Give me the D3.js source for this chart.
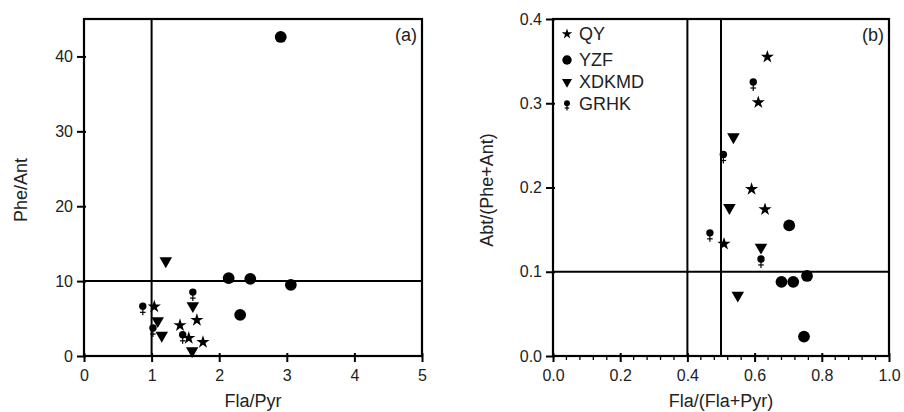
<!DOCTYPE html>
<html>
<head>
<meta charset="utf-8">
<script src="https://cdn.jsdelivr.net/npm/d3@7"></script>
<style>
  body { margin: 0; background: #fff; }
  svg { display: block; font-family: "Liberation Sans", Arial, sans-serif; }
  .tick text { font-size: 16px; fill: #222; }
</style>
</head>
<body>
<svg id="chart" width="904" height="412"></svg>
<script>
// panel (a): Fla/Pyr vs Phe/Ant
var qyA = [[1.04, 6.6], [1.42, 4.1], [1.67, 4.8], [1.55, 2.4], [1.76, 1.85]];
var yzfA = [[2.91, 42.6], [2.14, 10.4], [2.46, 10.3], [3.06, 9.5], [2.31, 5.5]];
var xdkmdA = [[1.21, 12.7], [1.61, 6.7], [1.09, 4.7], [1.15, 2.75], [1.6, 0.7]];
var grhkA = [[0.87, 6.5], [1.02, 3.6], [1.61, 8.4], [1.46, 2.7]];

// panel (b): Fla/(Fla+Pyr) vs Abt/(Phe+Ant)
var qyB = [[0.638, 0.355], [0.611, 0.301], [0.591, 0.198], [0.631, 0.174], [0.509, 0.133]];
var yzfB = [[0.703, 0.155], [0.680, 0.088], [0.715, 0.088], [0.756, 0.095], [0.747, 0.023]];
var xdkmdB = [[0.537, 0.260], [0.525, 0.176], [0.619, 0.129], [0.550, 0.072]];
var grhkB = [[0.596, 0.324], [0.507, 0.238], [0.467, 0.145], [0.619, 0.114]];

var ticksAx = [0, 1, 2, 3, 4, 5];
var ticksAy = [0, 10, 20, 30, 40];
var ticksBx = [0, 0.2, 0.4, 0.6, 0.8, 1.0];
var ticksBy = [0, 0.1, 0.2, 0.3, 0.4];

var legendNames = ['QY', 'YZF', 'XDKMD', 'GRHK'];

var svg = d3.select('#chart');

// marker drawing, k shrinks it for the legend
function drawMarker(g, type, k) {
	if (type == 'QY') {
		g.append('path').attr('d', d3.symbol().type(d3.symbolStar).size(54 * k * k)()).attr('fill', '#000');
	} else if (type == 'YZF') {
		g.append('circle').attr('r', 5.9 * k).attr('fill', '#000');
	} else if (type == 'XDKMD') {
		g.append('path').attr('d', d3.symbol().type(d3.symbolTriangle).size(68 * k * k)())
			.attr('transform', 'rotate(180)').attr('fill', '#000');
	} else {
		g.append('circle').attr('cy', -1 * k).attr('r', 3.7 * k).attr('fill', '#000');
		g.append('line').attr('x1', 0).attr('x2', 0).attr('y1', 2 * k).attr('y2', 8 * k)
			.attr('stroke', '#000').attr('stroke-width', 1.2);
		g.append('line').attr('x1', -2.8 * k).attr('x2', 2.8 * k).attr('y1', 5 * k).attr('y2', 5 * k)
			.attr('stroke', '#000').attr('stroke-width', 1.2);
	}
}

function drawPanel(cfg) {
	var x = d3.scaleLinear().domain(cfg.xDomain).range([cfg.left, cfg.right]);
	var y = d3.scaleLinear().domain(cfg.yDomain).range([cfg.bottom, cfg.top]);
	var g = svg.append('g');

	// x axis
	var xAxis = g.append('g').attr('transform', 'translate(0,' + cfg.bottom + ')')
		.call(d3.axisBottom(x).tickValues(cfg.xTicks).tickFormat(cfg.xFormat).tickSize(6).tickPadding(8));
	xAxis.select('.domain').remove();
	xAxis.selectAll('.tick line').attr('y1', -3).attr('stroke-width', 2);

	if (cfg.xMinor) {
		g.append('g').selectAll('line').data(cfg.xMinor).join('line')
			.attr('x1', function (d) { return x(d); }).attr('x2', function (d) { return x(d); })
			.attr('y1', cfg.bottom).attr('y2', cfg.bottom + 4)
			.attr('stroke', '#000').attr('stroke-width', 1.3);
	}

	// y axis
	var yAxis = g.append('g').attr('transform', 'translate(' + cfg.left + ',0)')
		.call(d3.axisLeft(y).tickValues(cfg.yTicks).tickFormat(cfg.yFormat).tickSize(7).tickPadding(4));
	yAxis.select('.domain').remove();
	yAxis.selectAll('.tick line').attr('x1', 2).attr('stroke-width', 2);

	// reference lines
	cfg.vLines.forEach(function (v) {
		g.append('line').attr('x1', x(v)).attr('x2', x(v)).attr('y1', cfg.top).attr('y2', cfg.bottom)
			.attr('stroke', '#000').attr('stroke-width', 2);
	});
	cfg.hLines.forEach(function (v) {
		g.append('line').attr('x1', cfg.left).attr('x2', cfg.right).attr('y1', y(v)).attr('y2', y(v))
			.attr('stroke', '#000').attr('stroke-width', 2);
	});

	// frame
	g.append('rect').attr('x', cfg.left).attr('y', cfg.top)
		.attr('width', cfg.right - cfg.left).attr('height', cfg.bottom - cfg.top)
		.attr('fill', 'none').attr('stroke', '#000').attr('stroke-width', 2.2);

	// points
	cfg.series.forEach(function (s) {
		s.data.forEach(function (d) {
			var m = g.append('g').attr('transform', 'translate(' + x(d[0]) + ',' + y(d[1]) + ')');
			drawMarker(m, s.name, 1);
		});
	});

	// titles
	g.append('text').attr('x', (cfg.left + cfg.right) / 2).attr('y', 407)
		.attr('text-anchor', 'middle').attr('font-size', 18).attr('fill', '#222').text(cfg.xTitle);
	g.append('text').attr('transform', 'translate(' + cfg.yTitleX + ',' + cfg.yTitleY + ') rotate(-90)')
		.attr('text-anchor', 'middle').attr('font-size', 18).attr('fill', '#222').text(cfg.yTitle);
	g.append('text').attr('x', cfg.right - 5).attr('y', 41)
		.attr('text-anchor', 'end').attr('font-size', 18).attr('fill', '#222').text(cfg.label);

	return g;
}

drawPanel({
	left: 84, right: 422, top: 19, bottom: 356,
	xDomain: [0, 5], yDomain: [0, 45],
	xTicks: ticksAx, yTicks: ticksAy,
	xFormat: d3.format('d'), yFormat: d3.format('d'),
	vLines: [1], hLines: [10],
	xTitle: 'Fla/Pyr', yTitle: 'Phe/Ant', yTitleX: 27, yTitleY: 190, label: '(a)',
	series: [
		{ name: 'YZF', data: yzfA },
		{ name: 'XDKMD', data: xdkmdA },
		{ name: 'QY', data: qyA },
		{ name: 'GRHK', data: grhkA }
	]
});

var gb = drawPanel({
	left: 553, right: 889, top: 19, bottom: 356,
	xDomain: [0, 1], yDomain: [0, 0.4],
	xTicks: ticksBx, yTicks: ticksBy,
	xMinor: d3.range(0, 26).filter(function (i) { return i % 5 != 0; }).map(function (i) { return i * 0.04; }),
	xFormat: d3.format('.1f'), yFormat: d3.format('.1f'),
	vLines: [0.4, 0.5], hLines: [0.1],
	xTitle: 'Fla/(Fla+Pyr)', yTitle: 'Abt/(Phe+Ant)', yTitleX: 493, yTitleY: 190, label: '(b)',
	series: [
		{ name: 'YZF', data: yzfB },
		{ name: 'XDKMD', data: xdkmdB },
		{ name: 'QY', data: qyB },
		{ name: 'GRHK', data: grhkB }
	]
});

// legend
var legendY = [34, 60, 82, 104];
legendNames.forEach(function (n, i) {
	var m = gb.append('g').attr('transform', 'translate(567,' + legendY[i] + ')');
	drawMarker(m, n, 0.8);
	gb.append('text').attr('x', 579).attr('y', legendY[i]).attr('dy', '0.36em')
		.attr('font-size', 18).attr('fill', '#222').text(n);
});
</script>
</body>
</html>
